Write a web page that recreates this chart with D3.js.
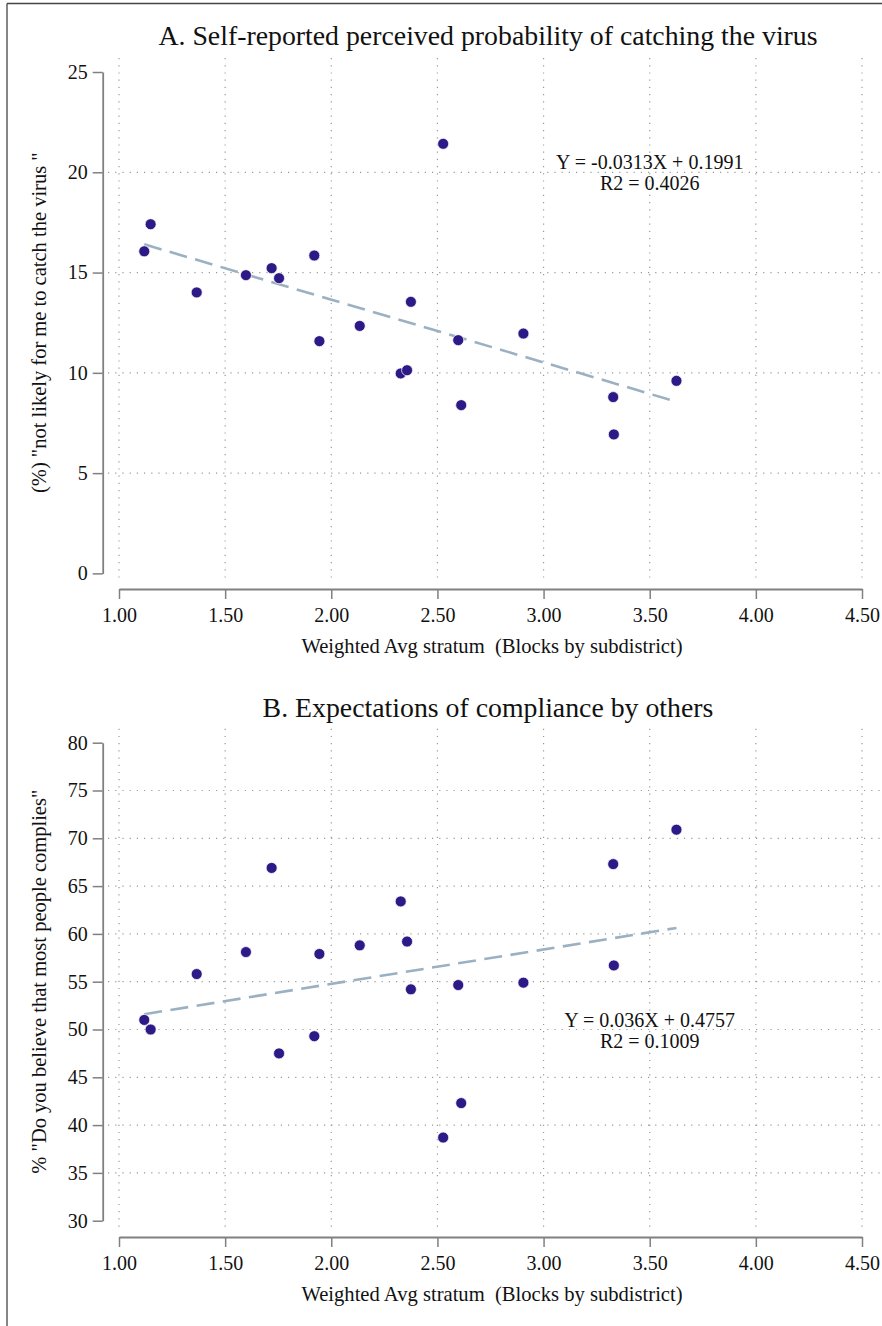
<!DOCTYPE html>
<html>
<head>
<meta charset="utf-8">
<script src="https://cdn.jsdelivr.net/npm/d3@7"></script>
<style>
  body { margin: 0; background: #fff; }
  svg text { font-family: "Liberation Serif", "Times New Roman", serif; fill: #111; }
</style>
</head>
<body>
<div id="chart"></div>
<script>
// x values shared by both panels (one per subdistrict)
const stratum = [1.119, 1.149, 1.366, 1.598, 1.719, 1.754, 1.920, 1.944, 2.134, 2.327,
                 2.357, 2.375, 2.527, 2.598, 2.612, 2.905, 3.328, 3.331, 3.626];
// panel A: % "not likely for me to catch the virus"
const notLikely = [16.06, 17.41, 14.01, 14.87, 15.22, 14.72, 15.85, 11.58, 12.34, 9.97,
                   10.13, 13.54, 21.42, 11.63, 8.39, 11.96, 8.79, 6.93, 9.60];
// panel B: % "Do you believe that most people complies"
const othersComply = [51.0, 50.0, 55.8, 58.1, 66.9, 47.5, 49.3, 57.9, 58.8, 63.4,
                      59.2, 54.2, 38.7, 54.65, 42.3, 54.9, 67.3, 56.7, 70.9];

const xTicks = [1.0, 1.5, 2.0, 2.5, 3.0, 3.5, 4.0, 4.5];
const yTicksA = [0, 5, 10, 15, 20, 25];
const yTicksB = [30, 35, 40, 45, 50, 55, 60, 65, 70, 75, 80];

// fitted lines as printed on the chart (fractions, shown in %)
const fitA = { slope: -0.0313, intercept: 0.1991, r2: '0.4026', label: 'Y = -0.0313X + 0.1991' };
const fitB = { slope: 0.036, intercept: 0.4757, r2: '0.1009', label: 'Y = 0.036X + 0.4757' };

const serif = '"Liberation Serif", "Times New Roman", serif';
const width = 882, height = 1326;
const svg = d3.select('#chart').append('svg')
    .attr('width', width)
    .attr('height', height);

// outer frame (top + left only visible)
svg.append('line').attr('x1', 7).attr('x2', width).attr('y1', 3.5).attr('y2', 3.5)
    .attr('stroke', '#444').attr('stroke-width', 1.3);
svg.append('line').attr('x1', 7).attr('x2', 7).attr('y1', 3.5).attr('y2', height)
    .attr('stroke', '#444').attr('stroke-width', 1.3);

const x = d3.scaleLinear().domain([1, 4.5]).range([119, 862]);

function drawPanel(cfg) {
    const y = d3.scaleLinear().domain(cfg.yDomain).range(cfg.yRange);
    const g = svg.append('g');
    const top = cfg.yRange[1] - 14, bottom = cfg.yRange[0] + 10;

    // dotted grid
    g.selectAll('.vgrid').data(xTicks).enter().append('line')
        .attr('x1', d => x(d)).attr('x2', d => x(d))
        .attr('y1', top).attr('y2', bottom)
        .attr('stroke', '#9a9a9a').attr('stroke-width', 1.2)
        .attr('stroke-dasharray', '1.2,6');
    g.selectAll('.hgrid').data(cfg.yTicks.slice(1, -1)).enter().append('line')
        .attr('x1', 108).attr('x2', 880)
        .attr('y1', d => y(d)).attr('y2', d => y(d))
        .attr('stroke', '#9a9a9a').attr('stroke-width', 1.2)
        .attr('stroke-dasharray', '1.2,6');

    // axes
    const yAxis = g.append('g')
        .attr('transform', `translate(102.7,0)`)
        .call(d3.axisLeft(y).tickValues(cfg.yTicks).tickSize(10).tickSizeOuter(0).tickPadding(5)
            .tickFormat(d3.format('d')));
    const xAxisY = cfg.yRange[0] + cfg.xAxisGap;
    const xAxis = g.append('g')
        .attr('transform', `translate(0,${xAxisY})`)
        .call(d3.axisBottom(x).tickValues(xTicks).tickSize(10).tickSizeOuter(0).tickPadding(9)
            .tickFormat(d3.format('.2f')));
    [yAxis, xAxis].forEach(a => {
        a.attr('font-family', serif).attr('font-size', 20);
        a.select('.domain').attr('stroke', '#808080').attr('stroke-width', 1.8);
        a.selectAll('.tick line').attr('stroke', '#808080').attr('stroke-width', 1.5);
        a.selectAll('.tick text')
            .style('font-family', serif)
            .style('font-size', '20px').attr('fill', '#111');
    });

    // fitted line
    const xMin = d3.min(stratum), xMax = d3.max(stratum);
    const fitY = v => (cfg.fit.intercept + cfg.fit.slope * v) * 100;
    g.append('line')
        .attr('x1', x(xMin)).attr('y1', y(fitY(xMin)))
        .attr('x2', x(xMax)).attr('y2', y(fitY(xMax)))
        .attr('stroke', '#9bb1c2').attr('stroke-width', 2.6)
        .attr('stroke-dasharray', '18,8.5');

    // points
    g.selectAll('circle').data(stratum).enter().append('circle')
        .attr('cx', d => x(d))
        .attr('cy', (d, i) => y(cfg.values[i]))
        .attr('r', 5.5)
        .attr('fill', '#2e1a87')
        .attr('stroke', '#fff').attr('stroke-width', 0.7);

    // fit annotation
    const ann = g.append('text')
        .attr('text-anchor', 'middle')
        .attr('x', x(3.5))
        .attr('y', cfg.annY)
        .style('font-size', '20px');
    ann.append('tspan').attr('x', x(3.5)).text(cfg.fit.label);
    ann.append('tspan').attr('x', x(3.5)).attr('dy', 21).text('R2 = ' + cfg.fit.r2);

    // title
    g.append('text')
        .attr('x', 488).attr('y', cfg.titleY)
        .attr('text-anchor', 'middle')
        .style('font-size', '27.8px')
        .text(cfg.title);

    // axis titles
    g.append('text')
        .attr('x', 492).attr('y', xAxisY + 64)
        .attr('text-anchor', 'middle')
        .style('font-size', '20.6px')
        .style('white-space', 'pre')
        .text('Weighted Avg stratum  (Blocks by subdistrict)');

    const cy = (cfg.yRange[0] + cfg.yRange[1]) / 2;
    g.append('text')
        .attr('transform', `translate(46,${cy}) rotate(-90)`)
        .attr('text-anchor', 'middle')
        .style('font-size', '20.5px')
        .style('white-space', 'pre')
        .text(cfg.yLabel);
}

drawPanel({
    title: 'A. Self-reported perceived probability of catching the virus',
    titleY: 45,
    yDomain: [0, 25], yRange: [573.4, 72], yTicks: yTicksA,
    xAxisGap: 15.6,
    values: notLikely, fit: fitA, annY: 169,
    yLabel: '(%) "not likely for me to catch the virus "'
});

drawPanel({
    title: 'B. Expectations of compliance by others',
    titleY: 717,
    yDomain: [30, 80], yRange: [1220.7, 742.7], yTicks: yTicksB,
    xAxisGap: 16.3,
    values: othersComply, fit: fitB, annY: 1027,
    yLabel: '% "Do you believe that most people complies"'
});
</script>
</body>
</html>
